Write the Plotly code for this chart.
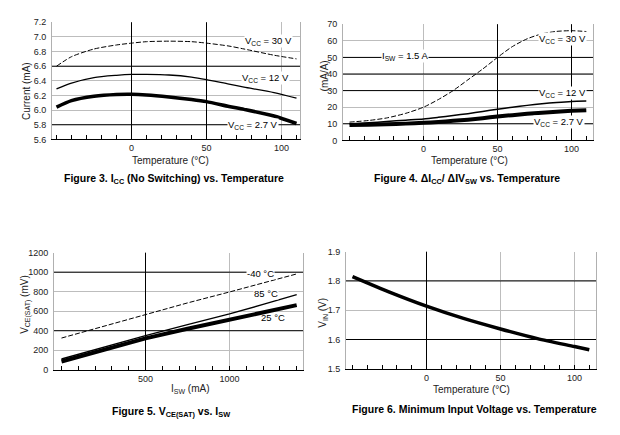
import plotly.graph_objects as go

# ---------------- data ----------------
# Figure 3: ICC (No Switching) vs Temperature
fig3_temp = [-50, -40, -25, -10, 0, 10, 25, 40, 50, 65, 75, 95, 110]
fig3_vcc30 = [6.60, 6.73, 6.835, 6.89, 6.915, 6.935, 6.942, 6.935, 6.915, 6.875, 6.835, 6.75, 6.70]
fig3_vcc12 = [6.29, 6.37, 6.445, 6.475, 6.487, 6.488, 6.48, 6.452, 6.418, 6.355, 6.315, 6.24, 6.163]
fig3_vcc27 = [6.04, 6.13, 6.19, 6.215, 6.218, 6.208, 6.18, 6.145, 6.116, 6.05, 6.01, 5.92, 5.817]

# Figure 4: dICC / dISW vs Temperature
fig4_temp = [-50, -37, -25, -12, 0, 10, 20, 30, 40, 50, 60, 70, 80, 90, 100, 110]
fig4_vcc30 = [11.0, 12.0, 13.5, 16.3, 20.0, 24.6, 30.0, 36.5, 43.0, 50.0, 56.5, 61.2, 64.2, 65.7, 66.1, 65.6]
fig4_vcc12 = [9.9, 10.6, 11.4, 12.2, 12.9, 13.9, 15.0, 16.1, 17.4, 18.8, 20.0, 21.1, 22.1, 22.9, 23.5, 23.7]
fig4_vcc27 = [9.3, 9.5, 9.7, 10.1, 10.6, 11.1, 11.8, 12.5, 13.4, 14.4, 15.2, 16.0, 16.7, 17.3, 17.8, 18.2]

# Figure 5: VCE(SAT) vs ISW
fig5_isw = [0, 250, 500, 750, 1000, 1200, 1400]
fig5_m40 = [325, 447, 568, 685, 797, 890, 982]
fig5_85 = [110, 230, 350, 462, 572, 670, 770]
fig5_25 = [85, 205, 322, 420, 510, 588, 662]

# Figure 6: Minimum input voltage vs Temperature
fig6_temp = [-50, -25, 0, 25, 50, 75, 100, 110]
fig6_vin = [1.815, 1.762, 1.714, 1.672, 1.636, 1.603, 1.576, 1.565]

temp_ticks = [0, 50, 100]
isw_ticks = [500, 1000]

# black (dark) grid lines per panel; the rest are light gray
dark_h = {1: [6.6, 5.8], 2: [10, 30, 40, 50], 3: [400, 1000], 4: [1.8, 1.6]}
dark_v = {1: [0, 50], 2: [50, 100], 3: [500], 4: [0]}

# the page body keeps its default 8px margin, so the figure is laid out in
# window pixels minus that offset
OFF = 8
W, H = 620 - 2 * OFF, 435 - 2 * OFF
FONT = "Liberation Sans, Arial, sans-serif"
GRAY = "#bdbdbd"


def fx(px):
    return (px - OFF) / W


def fy(py):
    return 1 - (py - OFF) / H


fig = go.Figure()

panels = {
    1: dict(px=(52, 300), py=(17.5, 137.5), xr=[-53, 112.333], yr=[5.6, 7.2], dy=0.2, fmt=".1f",
            xt=temp_ticks, minor=10),
    2: dict(px=(343, 593), py=(19.5, 138.5), xr=[-54.39, 114.53], yr=[0, 70], dy=10, fmt="d",
            xt=temp_ticks, minor=10),
    3: dict(px=(54, 303), py=(253.5, 373.5), xr=[-44.6, 1437.5], yr=[0, 1200], dy=200, fmt="d",
            xt=isw_ticks, minor=100),
    4: dict(px=(346, 596), py=(252.5, 372.5), xr=[-54.39, 114.53], yr=[1.5, 1.9], dy=0.1, fmt=".1f",
            xt=temp_ticks, minor=10),
}

layout_axes = {}
shapes = []
for n, p in panels.items():
    xs = "" if n == 1 else str(n)
    xd = [fx(p["px"][0]), fx(p["px"][1])]
    yd = [fy(p["py"][1]), fy(p["py"][0])]
    layout_axes["xaxis" + xs] = dict(
        domain=xd, range=p["xr"], anchor="y" + xs, tickmode="array", tickvals=p["xt"],
        showgrid=True, gridcolor=GRAY, gridwidth=1, zeroline=False,
        showline=True, linecolor="#000", linewidth=1, mirror=False,
        ticks="inside", ticklen=4, tickcolor="#000",
        minor=dict(ticks="inside", ticklen=4, dtick=p["minor"], tick0=0, tickcolor="#000", showgrid=False),
        tickfont=dict(family=FONT, size=9, color="#222"), fixedrange=True,
    )
    layout_axes["yaxis" + xs] = dict(
        domain=yd, range=p["yr"], anchor="x" + xs, dtick=p["dy"], tick0=p["yr"][0],
        tickformat=p["fmt"], showgrid=True, gridcolor=GRAY, gridwidth=1, zeroline=False,
        showline=True, linecolor="#b0b0b0", linewidth=1, mirror=True,
        ticks="", ticklabelstandoff=3,
        tickfont=dict(family=FONT, size=9, color="#222"), fixedrange=True,
    )
    xref = "x" + xs
    yref = "y" + xs
    for v in dark_h[n]:
        shapes.append(dict(type="line", xref=xref + " domain", yref=yref, x0=0, x1=1, y0=v, y1=v,
                           line=dict(color="#000", width=1), layer="above"))
    for v in dark_v[n]:
        shapes.append(dict(type="line", xref=xref, yref=yref + " domain", x0=v, x1=v, y0=0, y1=1,
                           line=dict(color="#000", width=1), layer="above"))

DASH = "5px,2px"


def line(x, y, n, width, dash="solid", shape="spline"):
    xs = "" if n == 1 else str(n)
    ld = dict(color="#000", width=width, dash=dash, shape=shape)
    if shape == "spline":
        ld["smoothing"] = 0.7
    fig.add_trace(go.Scatter(x=x, y=y, mode="lines", xaxis="x" + xs, yaxis="y" + xs,
                             line=ld, hoverinfo="skip", showlegend=False))


line(fig3_temp, fig3_vcc30, 1, 1, DASH)
line(fig3_temp, fig3_vcc12, 1, 1.3)
line(fig3_temp, fig3_vcc27, 1, 3.5)

line(fig4_temp, fig4_vcc30, 2, 1, DASH)
line(fig4_temp, fig4_vcc12, 2, 1.5)
line(fig4_temp, fig4_vcc27, 2, 4)

line(fig5_isw, fig5_m40, 3, 1, DASH, "linear")
line(fig5_isw, fig5_85, 3, 1.4, shape="linear")
line(fig5_isw, fig5_25, 3, 4, shape="linear")

line(fig6_temp, fig6_vin, 4, 3.5)

ann = []


def lab(text, x, y, n, size=9.5, bg="#fff"):
    xs = "" if n == 1 else str(n)
    ann.append(dict(text=text, x=x, y=y, xref="x" + xs, yref="y" + xs, showarrow=False,
                    font=dict(family=FONT, size=size, color="#000"), bgcolor=bg,
                    borderpad=0, xanchor="center", yanchor="middle"))


lab("V<sub>CC</sub> = 30 V", 91.6, 6.95, 1)
lab("V<sub>CC</sub> = 12 V", 89.0, 6.44, 1)
lab("V<sub>CC</sub> = 2.7 V", 81.0, 5.80, 1)

lab("V<sub>CC</sub> = 30 V", 93.6, 61.2, 2)
lab("I<sub>SW</sub> = 1.5 A", -12.3, 50.6, 2)
lab("V<sub>CC</sub> = 12 V", 93.6, 28.4, 2)
lab("V<sub>CC</sub> = 2.7 V", 91.3, 11.2, 2)

lab("-40 \u00b0C", 1182, 990, 3)
lab("85 \u00b0C", 1218, 780, 3)
lab("25 \u00b0C", 1259, 535, 3, bg="rgba(0,0,0,0)")


def ptext(text, cx, cy, size, bold=False, angle=0, color="#222"):
    if bold:
        text = "<b>" + text + "</b>"
    ann.append(dict(text=text, x=fx(cx), y=fy(cy), xref="paper", yref="paper", showarrow=False,
                    textangle=angle, font=dict(family=FONT, size=size, color=color),
                    xanchor="center", yanchor="middle"))


# figure titles
ptext("Figure 3. I<sub>CC</sub> (No Switching) vs. Temperature", 174, 178, 10.5, bold=True, color="#000")
ptext("Figure 4. \u0394I<sub>CC</sub>/ \u0394IV<sub>SW</sub> vs. Temperature", 467, 178, 10.5, bold=True, color="#000")
ptext("Figure 5. V<sub>CE(SAT)</sub> vs. I<sub>SW</sub>", 171, 417, 10.5, bold=True, color="#000")
ptext("Figure 6. Minimum Input Voltage vs. Temperature", 474, 414, 10.5, bold=True, color="#000")

# x-axis titles
ptext("Temperature (\u00b0C)", 170, 159, 10)
ptext("Temperature (\u00b0C)", 469, 159, 10)
ptext("I<sub>SW</sub> (mA)", 190, 393, 10)
ptext("Temperature (\u00b0C)", 471, 394, 10)

# y-axis titles
ptext("Current (mA)", 26, 88, 10, angle=-90)
ptext("(mA/A)", 324, 73, 10, angle=-90)
ptext("V<sub>CE(SAT)</sub> (mV)", 26, 307, 10, angle=-90)
ptext("V<sub>IN</sub> (V)", 323, 315, 10, angle=-90)

fig.update_layout(
    width=W, height=H, margin=dict(l=0, r=0, t=0, b=0),
    paper_bgcolor="#fff", plot_bgcolor="#fff",
    shapes=shapes, annotations=ann, showlegend=False,
    font=dict(family=FONT, color="#222"),
    **layout_axes,
)

fig.write_html("out.html", config={"displayModeBar": False})
